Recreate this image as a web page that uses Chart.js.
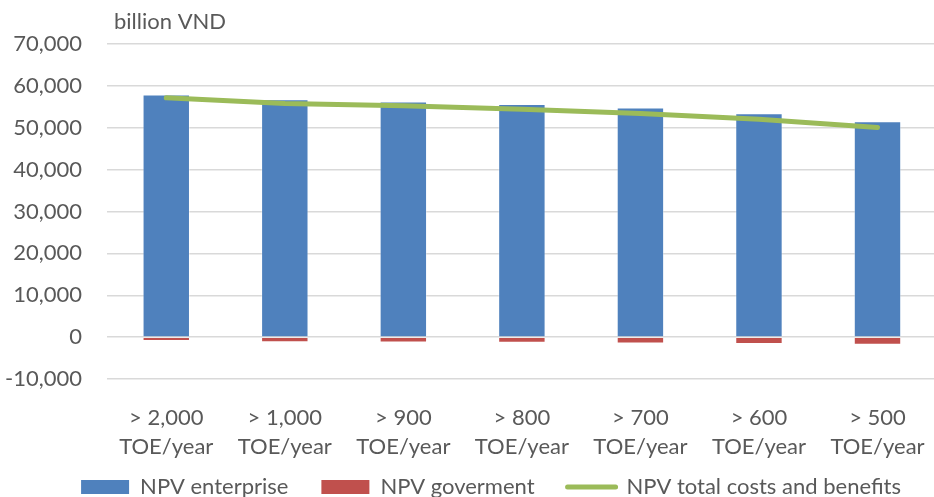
<!DOCTYPE html>
<html>
<head>
<meta charset="utf-8">
<script src="https://cdn.jsdelivr.net/npm/chart.js@4/dist/chart.umd.min.js"></script>
<style>
  html, body { margin: 0; padding: 0; background: #fff; overflow: hidden; }
  #wrap { width: 934px; height: 497px; overflow: hidden; position: relative; }
  #box { position: absolute; left: 0; top: 0; width: 950px; height: 527px; }
</style>
</head>
<body>
<div id="wrap"><div id="box"><canvas id="c"></canvas></div></div>
<script>
const categories = [
  ['> 2,000', 'TOE/year'],
  ['> 1,000', 'TOE/year'],
  ['> 900', 'TOE/year'],
  ['> 800', 'TOE/year'],
  ['> 700', 'TOE/year'],
  ['> 600', 'TOE/year'],
  ['> 500', 'TOE/year']
];
const npvEnterprise = [57950, 56830, 56270, 55700, 54840, 53480, 51570];
const npvGovernment = [-950, -1200, -1260, -1340, -1500, -1670, -1830];
const npvTotal = [57140, 55800, 55230, 54440, 53410, 52050, 50070];
const seriesNames = ['NPV enterprise', 'NPV goverment', 'NPV total costs and benefits'];
const axisTitle = 'billion VND';

const FONT = 'Lato';
const TXT = '#595959';

const titlePlugin = {
  id: 'axisTitleTop',
  afterDraw(chart) {
    const ctx = chart.ctx;
    ctx.save();
    ctx.font = '22px ' + FONT;
    ctx.fillStyle = TXT;
    ctx.textAlign = 'left';
    ctx.textBaseline = 'middle';
    ctx.fillText(axisTitle, chart.chartArea.left + 7, 22);
    ctx.restore();
  }
};

const legendShift = {
  id: 'legendShift',
  afterLayout(chart) {
    const lg = chart.legend;
    if (lg) { lg.left += 19; lg.right += 19; lg.top -= 19; lg.bottom -= 19; }
  }
};

new Chart(document.getElementById('c'), {
  data: {
    labels: categories,
    datasets: [
      { type: 'line', label: seriesNames[2], data: npvTotal, borderColor: '#9BBB59', backgroundColor: '#9BBB59',
        borderWidth: 5, pointRadius: 0, borderCapStyle: 'round', borderJoinStyle: 'round', stack: 'line', order: 0, tension: 0 },
      { type: 'bar', label: seriesNames[0], data: npvEnterprise, backgroundColor: '#4F81BD',
        borderColor: 'rgba(255,255,255,0.35)', borderWidth: 1, stack: 's', order: 1 },
      { type: 'bar', label: seriesNames[1], data: npvGovernment, backgroundColor: '#C0504D',
        borderColor: 'rgba(255,255,255,0.35)', borderWidth: 1, stack: 's', order: 1 }
    ]
  },
  options: {
    responsive: true,
    maintainAspectRatio: false,
    animation: false,
    layout: { padding: { top: 44, right: 6, left: 0, bottom: 0 } },
    datasets: { bar: { barPercentage: 0.4, categoryPercentage: 1.0 } },
    scales: {
      x: {
        stacked: true,
        grid: { display: false, drawTicks: false },
        border: { display: false },
        ticks: { color: TXT, font: { family: FONT, size: 22, lineHeight: 1.3 }, padding: 25, maxRotation: 0, autoSkip: false },
        afterFit(scale) { scale.height = 83; }
      },
      y: {
        stacked: true,
        min: -10000, max: 70000,
        grid: { color: '#D9D9D9', lineWidth: 1.5, drawTicks: false },
        border: { display: false },
        ticks: { stepSize: 10000, color: TXT, font: { family: FONT, size: 22 }, padding: 25,
          callback: v => v.toLocaleString('en-US') },
        afterFit(scale) { scale.width = 107; }
      }
    },
    plugins: {
      title: { display: false },
      tooltip: { enabled: false },
      legend: {
        position: 'bottom',
        labels: {
          color: TXT,
          font: { family: FONT, size: 22 },
          usePointStyle: true,
          pointStyleWidth: 48,
          boxHeight: 14,
          padding: 33,
          generateLabels(chart) {
            const items = Chart.defaults.plugins.legend.labels.generateLabels(chart);
            items.forEach(it => {
              if (it.datasetIndex === 0) {
                it.pointStyle = 'line'; it.lineWidth = 5; it.strokeStyle = '#9BBB59'; it.lineCap = 'round';
              } else {
                it.pointStyle = 'rect'; it.lineWidth = 0;
              }
            });
            items.sort((a, b) => {
              const ord = i => i === 0 ? 2 : i - 1;
              return ord(a.datasetIndex) - ord(b.datasetIndex);
            });
            return items;
          }
        }
      }
    }
  },
  plugins: [titlePlugin, legendShift]
});
</script>
</body>
</html>
